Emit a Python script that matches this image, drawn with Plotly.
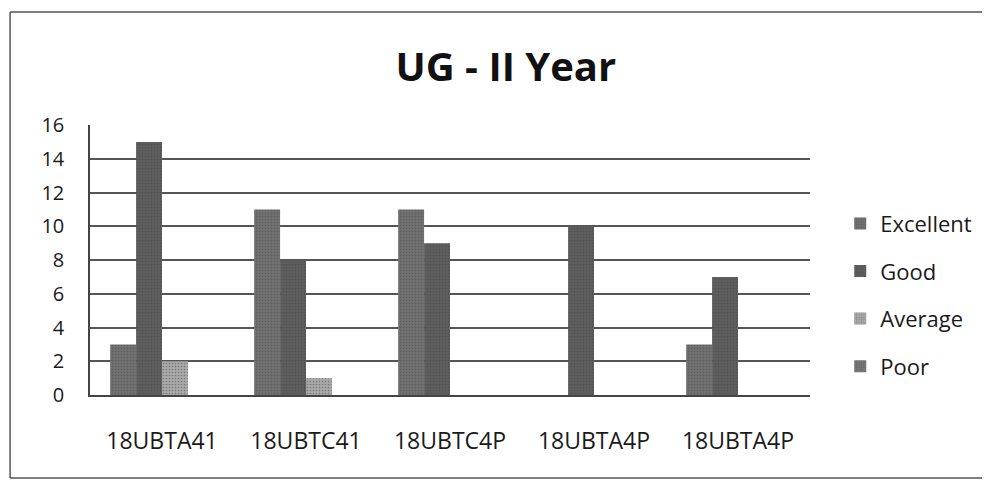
import plotly.graph_objects as go

categories = ["18UBTA41", "18UBTC41", "18UBTC4P", "18UBTA4P", "18UBTA4P"]
series_names = ["Excellent", "Good", "Average", "Poor"]
excellent = [3, 11, 11, 0, 3]
good = [15, 8, 9, 10, 7]
average = [2, 1, 0, 0, 0]
poor = [0, 0, 0, 0, 0]
y_ticks = [0, 2, 4, 6, 8, 10, 12, 14, 16]

colors = ["#717171", "#5e5e5e", "#aaaaaa", "#777777"]
positions = list(range(len(categories)))

fig = go.Figure()
for name, vals, col in zip(series_names, [excellent, good, average, poor], colors):
    fig.add_trace(go.Bar(
        x=positions, y=vals, name=name, legendgroup=name,
        marker=dict(color=col, line=dict(width=0),
                    pattern=dict(shape=".", fgcolor="#454545", size=3, solidity=0.25)),
    ))

line_style = dict(color="#555", width=1.5)
fig.update_layout(
    width=982, height=476,
    paper_bgcolor="#ffffff", plot_bgcolor="#ffffff",
    barmode="group", bargap=0.28, bargroupgap=0,
    margin=dict(l=82, r=180, t=117, b=89),
    font=dict(family="Open Sans, Liberation Sans, sans-serif", size=20, color="#1a1a1a"),
    title=dict(text="<b>UG - II Year</b>", x=0.507, xanchor="center", y=0.876, yanchor="middle",
               font=dict(size=40, color="#111")),
    legend=dict(x=1.042, xanchor="left", y=0.37, yanchor="middle",
                tracegroupgap=16, font=dict(size=22), bgcolor="rgba(0,0,0,0)"),
    xaxis=dict(tickmode="array", tickvals=positions, ticktext=categories,
               range=[-0.5, len(categories) - 0.5], showgrid=False, zeroline=False,
               showline=True, linecolor="#444", linewidth=1.5, ticks="",
               ticklabelstandoff=25, tickfont=dict(size=23)),
    yaxis=dict(range=[0, 16], tickvals=y_ticks, showgrid=True, gridcolor="#555",
               gridwidth=1.5, zeroline=False, showline=True, linecolor="#444",
               linewidth=1.5, ticks="", ticklabelstandoff=20, tickfont=dict(size=20)),
    shapes=[
        dict(type="line", xref="paper", yref="paper", x0=-0.111, x1=1.26, y0=1.4185, y1=1.4185, line=line_style),
        dict(type="line", xref="paper", yref="paper", x0=-0.111, x1=-0.111, y0=-0.307, y1=1.4185, line=line_style),
        dict(type="line", xref="paper", yref="paper", x0=-0.111, x1=1.26, y0=-0.307, y1=-0.307, line=line_style),
    ],
)

fig.write_html("out.html")
